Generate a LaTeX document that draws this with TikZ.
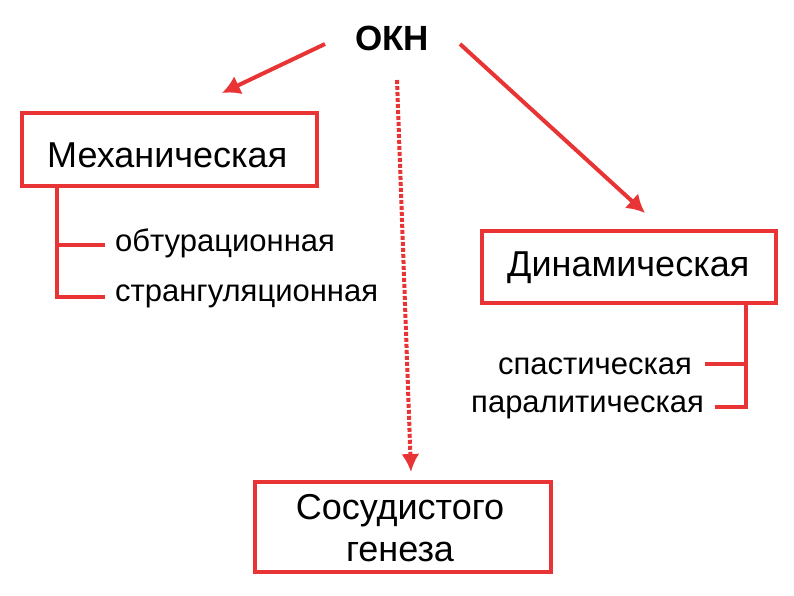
\documentclass[tikz,border=0pt]{standalone}
\usepackage{fontspec}
\setmainfont{Liberation Sans}
\usetikzlibrary{arrows.meta}
\definecolor{kred}{RGB}{232,52,52}
\begin{document}
\begin{tikzpicture}[x=1pt,y=-1pt,
  box/.style={draw=kred,line width=4pt,inner sep=0pt},
  ln/.style={draw=kred,line width=4pt},
  arr/.style={draw=kred,line width=4pt,-{Latex[length=18pt,width=20pt]}},
  big/.style={font=\fontsize{36}{40}\selectfont,inner sep=0pt},
  small/.style={font=\fontsize{31}{34}\selectfont,inner sep=0pt}]
\useasboundingbox (0,0) rectangle (794,595);
\node[font=\bfseries\fontsize{35}{38}\selectfont] (okn) at (392,38) {ОКН};
\node[box,minimum width=295pt,minimum height=73pt] (mech) at (169.5,149.5) {};
\node[big,anchor=west] at (47,155) {Механическая};
\node[box,minimum width=294pt,minimum height=72pt] (dyn) at (629,267) {};
\node[big,anchor=west] at (507,268) {Динамическая};
\node[box,minimum width=296pt,minimum height=90pt] (sos) at (403,527) {};
\node[big,align=center,font=\fontsize{36}{42}\selectfont] at (400,528) {Сосудистого\\генеза};
\coordinate (a1) at (325,44); \coordinate (a1e) at (222,93);
\coordinate (a2) at (460,44); \coordinate (a2e) at (645,213);
\coordinate (a3) at (397,80); \coordinate (a3e) at (411,472);
\draw[arr] (a1) -- (a1e);
\draw[arr] (a2) -- (a2e);
\draw[kred,line width=4pt,dotted,-{Latex[length=18pt,width=18pt]}] (a3) -- (a3e);
\coordinate (m0) at (57,186); \coordinate (m1) at (57,245); \coordinate (m2) at (57,297);
\coordinate (m1e) at (105,245); \coordinate (m2e) at (105,297);
\draw[ln] (m0) -- (m2) -- (m2e);
\draw[ln] (m1) -- (m1e);
\node[small,anchor=west] (t1) at (115,243) {обтурационная};
\node[small,anchor=west] (t2) at (115,296) {странгуляционная};
\coordinate (d0) at (746,303); \coordinate (d1) at (746,364); \coordinate (d2) at (746,407);
\coordinate (d1e) at (705,364); \coordinate (d2e) at (715,407);
\draw[ln] (d0) -- (d2) -- (d2e);
\draw[ln] (d1) -- (d1e);
\node[small,anchor=east] (t3) at (692,366) {спастическая};
\node[small,anchor=east] (t4) at (704,407) {паралитическая};
\end{tikzpicture}
\end{document}
